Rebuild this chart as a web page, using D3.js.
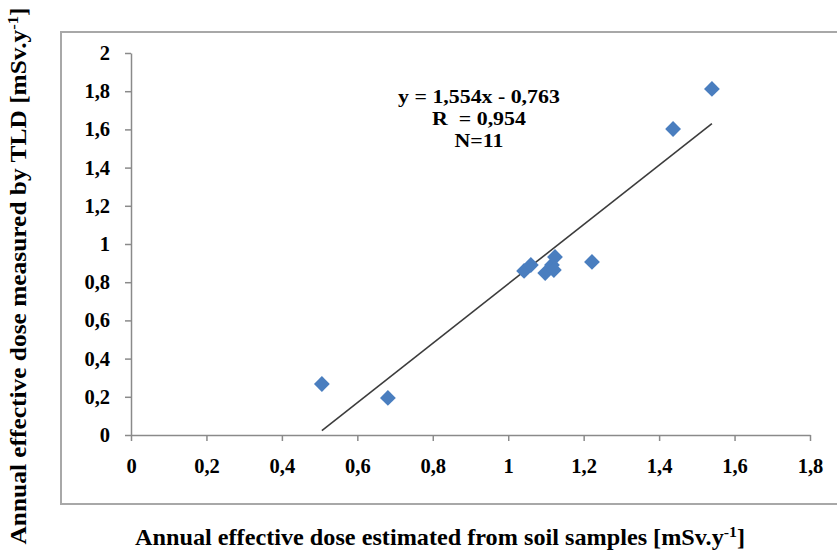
<!DOCTYPE html>
<html>
<head>
<meta charset="utf-8">
<script src="https://cdn.jsdelivr.net/npm/d3@7"></script>
<style>
  body { margin: 0; background: #fff; }
  text { font-family: "Liberation Serif", "Times New Roman", serif; font-weight: bold; fill: #000; }
</style>
</head>
<body>
<div id="chart"></div>
<script>
// soil estimate (x) vs TLD measurement (y), mSv/y
var soilDose = [0.506, 0.681, 1.042, 1.060, 1.098, 1.116, 1.121, 1.124, 1.222, 1.437, 1.540]
var tldDose  = [0.267, 0.194, 0.859, 0.890, 0.848, 0.890, 0.864, 0.932, 0.906, 1.602, 1.812]
var xTicks = [0, 0.2, 0.4, 0.6, 0.8, 1, 1.2, 1.4, 1.6, 1.8]
var yTicks = [0, 0.2, 0.4, 0.6, 0.8, 1, 1.2, 1.4, 1.6, 1.8, 2]
var fitSlope = 1.554
var fitIntercept = -0.763
var statLines = ["y = 1,554x - 0,763", "R  = 0,954", "N=11"]

var W = 837, H = 551

var svg = d3.select("#chart").append("svg")
  .attr("width", W)
  .attr("height", H)

// outer frame (runs off the right edge like the original)
svg.append("rect")
  .attr("x", 61).attr("y", 32)
  .attr("width", 800).attr("height", 472)
  .attr("fill", "none")
  .attr("stroke", "#a8a8a8")
  .attr("stroke-width", 2)

var x = d3.scaleLinear().domain([0, 1.8]).range([131, 810])
var y = d3.scaleLinear().domain([0, 2]).range([435, 53])

var fmt = d => String(d).replace(".", ",")

var gx = svg.append("g")
  .attr("transform", "translate(0," + y(0) + ")")
  .call(d3.axisBottom(x).tickValues(xTicks).tickFormat(fmt).tickSize(6).tickSizeOuter(0).tickPadding(17))
var gy = svg.append("g")
  .attr("transform", "translate(" + x(0) + ",0)")
  .call(d3.axisLeft(y).tickValues(yTicks).tickFormat(fmt).tickSize(6).tickSizeOuter(0).tickPadding(15))

svg.selectAll(".domain, .tick line")
  .attr("stroke", "#8a8a8a")
  .attr("stroke-width", 1.5)
svg.selectAll(".tick text")
  .style("font-size", "20.5px")
  .style("font-family", "'Liberation Serif', serif")
  .style("font-weight", "bold")
  .attr("fill", "#000")

// linear trend line over the data range
var x0 = d3.min(soilDose), x1 = d3.max(soilDose)
svg.append("line")
  .attr("x1", x(x0)).attr("y1", y(fitSlope * x0 + fitIntercept))
  .attr("x2", x(x1)).attr("y2", y(fitSlope * x1 + fitIntercept))
  .attr("stroke", "#3c3c3c")
  .attr("stroke-width", 1.6)

var pts = soilDose.map((v, i) => ({x: v, y: tldDose[i]}))
var diamond = d3.symbol().type(d3.symbolSquare).size(125)
svg.append("g")
  .selectAll("path")
  .data(pts)
  .enter()
  .append("path")
  .attr("d", diamond)
  .attr("transform", d => "translate(" + x(d.x) + "," + y(d.y) + ") rotate(45)")
  .attr("fill", "#4a7ebf")

// regression stats (slightly widened, like the stretched original)
svg.append("g")
  .selectAll("text")
  .data(statLines)
  .enter().append("text")
  .attr("x", 479)
  .attr("y", (d, i) => 103 + i * 22)
  .attr("text-anchor", "middle")
  .style("font-size", "19px")
  .style("white-space", "pre")
  .text(d => d)
  .each(function() {
    var w = this.getComputedTextLength()
    d3.select(this).attr("textLength", w * 1.15).attr("lengthAdjust", "spacingAndGlyphs")
  })

// axis titles
var xt = svg.append("text")
  .attr("x", 440).attr("y", 545)
  .attr("text-anchor", "middle")
  .attr("textLength", 610)
  .attr("lengthAdjust", "spacingAndGlyphs")
  .style("font-size", "23px")
xt.append("tspan").text("Annual effective dose estimated from soil samples [mSv.y")
xt.append("tspan").attr("dy", -8).style("font-size", "15px").text("-1")
xt.append("tspan").attr("dy", 8).text("]")

var yt = svg.append("text")
  .attr("transform", "translate(26,276) rotate(-90)")
  .attr("text-anchor", "middle")
  .attr("textLength", 537)
  .attr("lengthAdjust", "spacingAndGlyphs")
  .style("font-size", "23px")
yt.append("tspan").text("Annual effective dose measured by TLD [mSv.y")
yt.append("tspan").attr("dy", -8).style("font-size", "15px").text("-1")
yt.append("tspan").attr("dy", 8).text("]")
</script>
</body>
</html>
